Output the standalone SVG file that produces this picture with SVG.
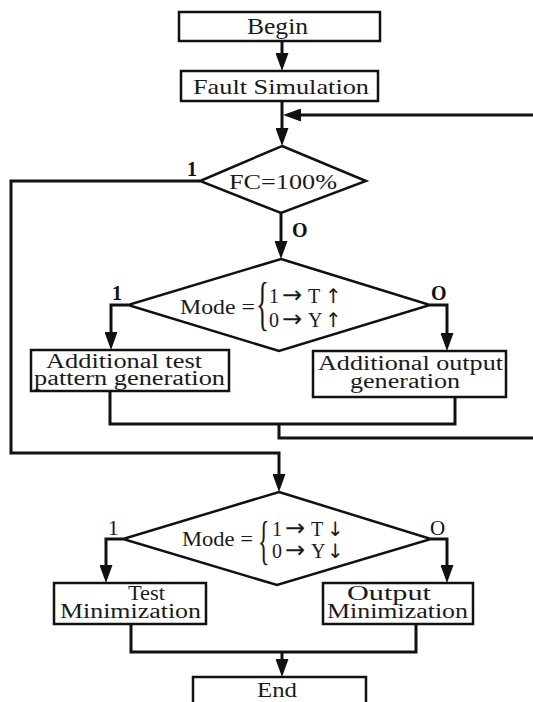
<svg xmlns="http://www.w3.org/2000/svg" width="533" height="702" viewBox="0 0 533 702">
<defs>
<style>
.box{fill:#fff;stroke:#111;stroke-width:2.5}
.dia{fill:#fff;stroke:#111;stroke-width:2.5;stroke-linejoin:miter}
.con{fill:none;stroke:#111;stroke-width:3}
.t{font-family:"Liberation Serif","Times New Roman",serif;font-size:22px;fill:#1a1a1a}
.t2{font-family:"Liberation Serif","Times New Roman",serif;font-size:20px;fill:#1a1a1a}
.m{font-family:"Liberation Serif","DejaVu Serif",serif;font-size:20px;fill:#1a1a1a}
.ar{font-family:"DejaVu Sans",sans-serif;font-size:20px}
.arl{font-family:"DejaVu Sans",sans-serif;font-size:24px}
.br{font-family:"Liberation Serif","Times New Roman",serif;fill:#1a1a1a}
.lb{font-family:"Liberation Serif","Times New Roman",serif;font-size:20px;font-weight:bold;fill:#111}
.ln{font-family:"Liberation Serif","Times New Roman",serif;font-size:21px;fill:#111}
</style>
<marker id="ah" markerUnits="userSpaceOnUse" markerWidth="18" markerHeight="13" refX="8" refY="6.5" orient="auto">
<path d="M0,0 L18,6.5 L0,13 z" fill="#111"/>
</marker>
</defs>
<rect width="533" height="702" fill="#fff"/>

<g id="connectors">
<path class="con" d="M282,41 V61" marker-end="url(#ah)"/>
<path class="con" d="M282,101 V136" marker-end="url(#ah)"/>
<path class="con" d="M533,115 H293" marker-end="url(#ah)"/>
<path class="con" d="M281,213 V249" marker-end="url(#ah)"/>
<path class="con" d="M200,181 H11 V453 H279 V482" marker-end="url(#ah)"/>
<path class="con" d="M128,305 H111 V340" marker-end="url(#ah)"/>
<path class="con" d="M430,305 H447 V341" marker-end="url(#ah)"/>
<path class="con" d="M110,391 V424 H455 V397"/>
<path class="con" d="M279,424 V438 H533"/>
<path class="con" d="M123,539 H106 V573" marker-end="url(#ah)"/>
<path class="con" d="M431,539 H447 V573" marker-end="url(#ah)"/>
<path class="con" d="M131,624 V652 H416 V624"/>
<path class="con" d="M282,652 V667" marker-end="url(#ah)"/>
</g>

<g id="labels">
<text class="lb" x="187" y="176">1</text>
<text class="lb" x="292" y="237">O</text>
<text class="lb" x="112" y="300">1</text>
<text class="lb" x="431" y="300">O</text>
<text class="ln" x="108" y="535">1</text>
<text class="ln" x="430" y="535">O</text>
</g>

<g id="begin">
<rect class="box" x="179" y="12" width="201" height="29"/>
<text class="t" x="247" y="34" style="font-size:24px" textLength="61" lengthAdjust="spacingAndGlyphs">Begin</text>
</g>

<g id="fault-simulation">
<rect class="box" x="181" y="71" width="197" height="30"/>
<text class="t" x="193" y="94" textLength="176" lengthAdjust="spacingAndGlyphs">Fault Simulation</text>
</g>

<g id="fc-decision">
<polygon class="dia" points="282,146 366,181 281,213 200,181"/>
<text class="t" x="229" y="189" textLength="108" lengthAdjust="spacingAndGlyphs">FC=100%</text>
</g>

<g id="mode-decision-1">
<polygon class="dia" points="281,259 430,305 279,351 128,305"/>
<text class="m" x="180" y="314" textLength="75" lengthAdjust="spacingAndGlyphs">Mode =</text>
<text class="br" transform="translate(256,323) scale(0.45,1)" style="font-size:60px">{</text>
<text class="m" y="303"><tspan x="269">1</tspan><tspan class="arl" x="282">→</tspan><tspan x="308">T</tspan><tspan class="ar" x="325">↑</tspan></text>
<text class="m" y="327"><tspan x="269">0</tspan><tspan class="arl" x="282">→</tspan><tspan x="308">Y</tspan><tspan class="ar" x="325">↑</tspan></text>
</g>

<g id="additional-test">
<rect class="box" x="31" y="350" width="198" height="41"/>
<text class="t2" x="46" y="368" textLength="156" lengthAdjust="spacingAndGlyphs">Additional test</text>
<text class="t2" x="34" y="385" textLength="191" lengthAdjust="spacingAndGlyphs">pattern generation</text>
</g>

<g id="additional-output">
<rect class="box" x="313" y="351" width="193" height="46"/>
<text class="t2" x="318" y="370" textLength="185" lengthAdjust="spacingAndGlyphs">Additional output</text>
<text class="t2" x="350" y="388" textLength="110" lengthAdjust="spacingAndGlyphs">generation</text>
</g>

<g id="mode-decision-2">
<polygon class="dia" points="279,492 431,539 277,585 123,539"/>
<text class="m" x="182" y="546" textLength="71" lengthAdjust="spacingAndGlyphs">Mode =</text>
<text class="br" transform="translate(258,558) scale(0.45,1)" style="font-size:53px">{</text>
<text class="m" y="536"><tspan x="272">1</tspan><tspan class="arl" x="285">→</tspan><tspan x="311">T</tspan><tspan class="ar" x="327">↓</tspan></text>
<text class="m" y="558"><tspan x="272">0</tspan><tspan class="arl" x="285">→</tspan><tspan x="311">Y</tspan><tspan class="ar" x="327">↓</tspan></text>
</g>

<g id="test-minimization">
<rect class="box" x="54" y="583" width="152" height="41"/>
<text class="t2" x="128" y="600" textLength="37" lengthAdjust="spacingAndGlyphs">Test</text>
<text class="t2" x="60" y="618" textLength="141" lengthAdjust="spacingAndGlyphs">Minimization</text>
</g>

<g id="output-minimization">
<rect class="box" x="323" y="583" width="150" height="41"/>
<text class="t2" x="347" y="600" textLength="84" lengthAdjust="spacingAndGlyphs">Output</text>
<text class="t2" x="327" y="618" textLength="141" lengthAdjust="spacingAndGlyphs">Minimization</text>
</g>

<g id="end">
<rect class="box" x="193" y="677" width="173" height="40"/>
<text class="t2" x="257" y="697" textLength="40" lengthAdjust="spacingAndGlyphs">End</text>
</g>
</svg>
